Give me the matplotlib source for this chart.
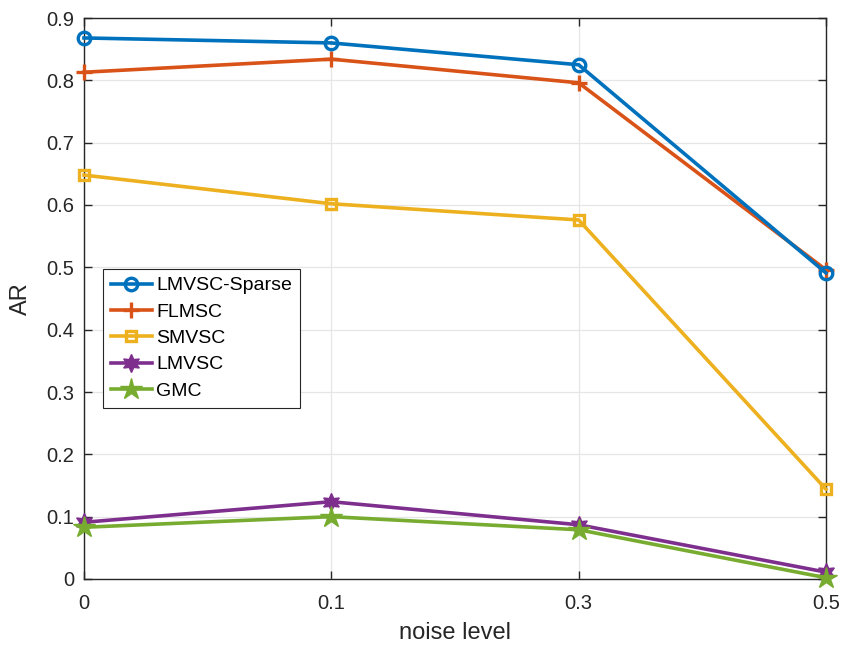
import matplotlib
matplotlib.use("Agg")
import matplotlib.pyplot as plt

noise_levels = ["0", "0.1", "0.3", "0.5"]
lmvsc_sparse = [0.868, 0.860, 0.825, 0.491]
flmsc = [0.813, 0.834, 0.796, 0.496]
smvsc = [0.648, 0.602, 0.576, 0.144]
lmvsc = [0.091, 0.124, 0.087, 0.011]
gmc = [0.083, 0.100, 0.079, 0.002]

plt.rcParams['font.family'] = ['Liberation Sans', 'DejaVu Sans']

fig = plt.figure(figsize=(8.51, 6.47), dpi=100)
ax = fig.add_axes([84 / 851, 1 - 579 / 647, 742 / 851, 561 / 647])

x = list(range(len(noise_levels)))
lw = 2.6
kw = dict(lw=lw, clip_on=False)
ax.plot(x, lmvsc_sparse, color='#0072BD', marker='o', ms=9, mfc='none', mew=2.4, label='LMVSC-Sparse', zorder=6, **kw)
ax.plot(x, flmsc, color='#D95319', marker='+', ms=11, mew=2.4, label='FLMSC', zorder=5, **kw)
ax.plot(x, smvsc, color='#EDB120', marker='s', ms=7, mfc='none', mew=2.4, label='SMVSC', zorder=4, **kw)
ax.plot(x, lmvsc, color='#7E2F8E', marker=(6, 1, 0), ms=13, mfc='#7E2F8E', mew=1, label='LMVSC', zorder=3, **kw)
ax.plot(x, gmc, color='#77AC30', marker='*', ms=16, mfc='#77AC30', mew=1, label='GMC', zorder=4, **kw)

ax.set_xlim(0, 3)
ax.set_ylim(0, 0.9)
ax.set_xticks(x)
ax.set_xticklabels(noise_levels)
ax.set_yticks([i / 10 for i in range(10)])
ax.set_yticklabels(['0'] + [f'0.{i}' for i in range(1, 10)])
ax.tick_params(direction='in', length=6, width=1, labelsize=14.5, colors='#262626', top=True, right=True)
ax.tick_params(axis='x', pad=11)
ax.tick_params(axis='y', pad=7)
ax.grid(True, color='#e6e6e6', lw=0.9)
ax.set_axisbelow(True)
for s in ax.spines.values():
    s.set_color('#262626')
    s.set_linewidth(1)
ax.set_xlabel('noise level', fontsize=17, color='#262626', labelpad=6)
ax.set_ylabel('AR', fontsize=17, color='#262626', labelpad=10)

leg = ax.legend(loc='upper left', bbox_to_anchor=(19 / 742, (579 - 269) / 561), fontsize=14,
                frameon=True, fancybox=False, edgecolor='#262626', framealpha=1,
                handlelength=2.1, borderpad=0.4, labelspacing=0.45, handletextpad=0.25, borderaxespad=0)
leg.get_frame().set_linewidth(0.8)

fig.savefig('out.png', dpi=100)
